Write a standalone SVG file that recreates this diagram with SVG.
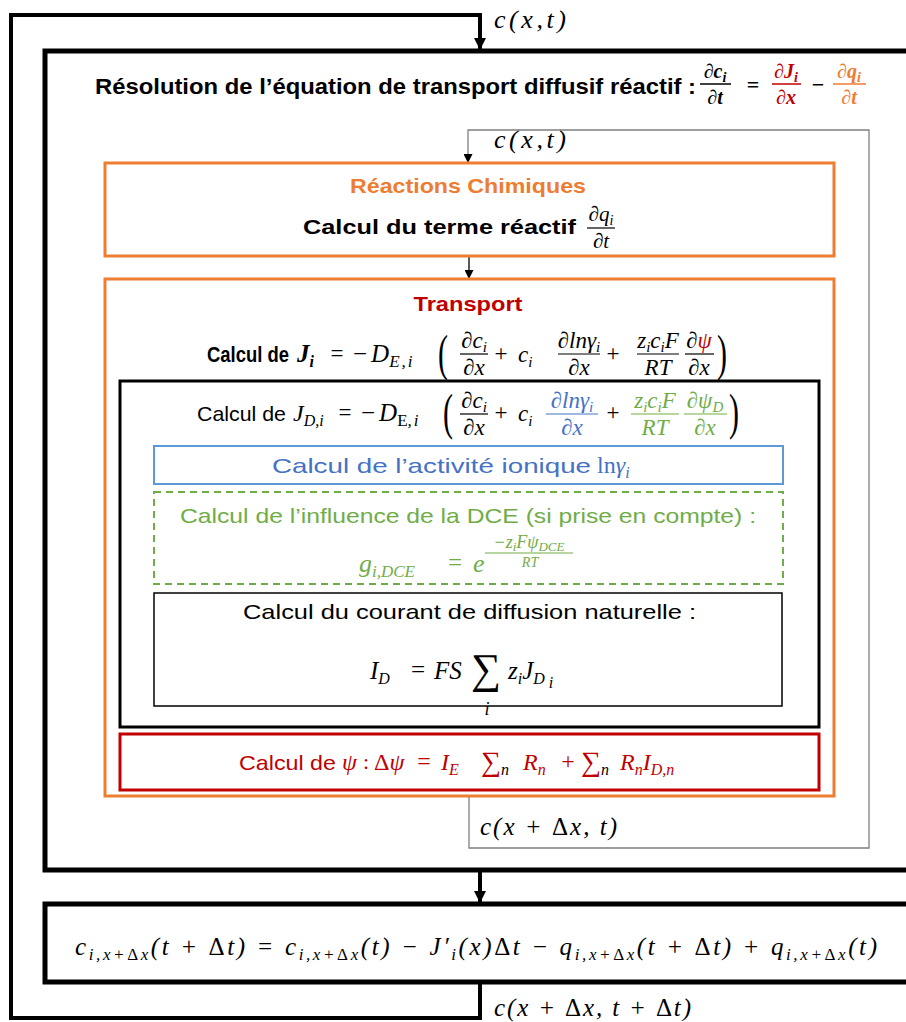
<svg xmlns="http://www.w3.org/2000/svg" width="906" height="1022" viewBox="0 0 906 1022">
<defs>
<style>
.t{font-family:"Liberation Sans",Arial,sans-serif;fill:#000}
.b{font-weight:bold}
.m{font-family:"Liberation Serif","DejaVu Serif",serif;font-style:italic;fill:#000}
.u{font-style:normal}
.or{fill:#ED7D31}
.rd{fill:#C00000}
.bl{fill:#4472C4}
.gr{fill:#70AD47}
.fl{stroke:#000;stroke-width:1.2}
</style>
<marker id="ab" viewBox="0 0 12 12" refX="12" refY="6" markerWidth="12" markerHeight="12" markerUnits="userSpaceOnUse" orient="auto"><path d="M0,0 L12,6 L0,12 Z" fill="#000"/></marker>
<marker id="as" viewBox="0 0 10 10" refX="10" refY="5" markerWidth="10" markerHeight="9" markerUnits="userSpaceOnUse" orient="auto"><path d="M0,0 L10,5 L0,10 Z" fill="#000"/></marker>
</defs>
<rect width="906" height="1022" fill="#fff"/>

<g id="connectors" fill="none">
<polyline points="480,982 480,1018 11,1018 11,15 480,15 480,50" stroke="#000" stroke-width="4" marker-end="url(#ab)"/>
<line x1="480" y1="870" x2="480" y2="903" stroke="#000" stroke-width="4" marker-end="url(#ab)"/>
<polyline points="469,797 469,848 869,848 869,130 468,130 468,163" stroke="#7F7F7F" stroke-width="1.3" marker-end="url(#as)"/>
<line x1="469" y1="257" x2="469" y2="279" stroke="#000" stroke-width="1.3" marker-end="url(#as)"/>
</g>

<g id="label-top" font-size="26">
<text class="m" x="494" y="28" textLength="72" lengthAdjust="spacing">c(x,t)</text>
</g>

<g id="main-box" font-size="20">
<rect x="45" y="51" width="880" height="819" fill="none" stroke="#000" stroke-width="5"/>
<text class="t b" x="95" y="94" font-size="22" textLength="601" lengthAdjust="spacingAndGlyphs">Résolution de l’équation de transport diffusif réactif :</text>
<text class="m b" x="715" y="78" text-anchor="middle">∂c<tspan font-size="14" dy="4">i</tspan></text>
<line x1="700" y1="84" x2="731" y2="84" stroke="#000" stroke-width="1.5"/>
<text class="m b" x="715" y="104" text-anchor="middle">∂t</text>
<text class="m u b" x="753" y="92" font-size="22" text-anchor="middle">=</text>
<text class="m b rd" x="786" y="78" text-anchor="middle">∂J<tspan font-size="14" dy="4">i</tspan></text>
<line x1="772" y1="84" x2="801" y2="84" stroke="#C00000" stroke-width="1.5"/>
<text class="m b rd" x="786" y="104" text-anchor="middle">∂x</text>
<text class="m u b" x="818" y="92" font-size="22" text-anchor="middle">−</text>
<text class="m b or" x="849" y="78" text-anchor="middle">∂q<tspan font-size="14" dy="4">i</tspan></text>
<line x1="833" y1="84" x2="866" y2="84" stroke="#ED7D31" stroke-width="1.5"/>
<text class="m b or" x="849" y="104" text-anchor="middle">∂t</text>
</g>

<g id="label-inner" font-size="26">
<text class="m" x="494" y="148" textLength="72" lengthAdjust="spacing">c(x,t)</text>
</g>

<g id="reactions" font-size="21">
<rect x="105" y="163" width="729" height="93" fill="#fff" stroke="#ED7D31" stroke-width="3"/>
<text class="t b or" x="468" y="193" text-anchor="middle" textLength="236" lengthAdjust="spacingAndGlyphs">Réactions Chimiques</text>
<text class="t b" x="303" y="234" textLength="273" lengthAdjust="spacingAndGlyphs">Calcul du terme réactif</text>
<text class="m" x="601" y="221" text-anchor="middle">∂q<tspan font-size="14" dy="4">i</tspan></text>
<line x1="587" y1="228" x2="615" y2="228" class="fl"/>
<text class="m" x="601" y="248" text-anchor="middle">∂t</text>
</g>

<g id="transport" font-size="23">
<rect x="105" y="279" width="729" height="517" fill="#fff" stroke="#ED7D31" stroke-width="3"/>
<text class="t b rd" x="468" y="311" font-size="21" text-anchor="middle" textLength="109" lengthAdjust="spacingAndGlyphs">Transport</text>
<text class="t b" x="207" y="362" font-size="22" textLength="82" lengthAdjust="spacingAndGlyphs">Calcul de</text>
<text class="m b" x="297" y="362" font-size="25">J<tspan font-size="16" dy="5">i</tspan></text>
<text class="m u" x="337" y="361" text-anchor="middle">=</text>
<text class="m" x="353" y="362" font-size="25"><tspan class="u">−</tspan><tspan dx="4">D</tspan><tspan font-size="17" dy="5" letter-spacing="2">E,i</tspan></text>
<text class="m u" font-size="50" transform="translate(438,370) scale(0.6,1)">(</text>
<text class="m" x="474" y="348" text-anchor="middle">∂c<tspan font-size="15" dy="4">i</tspan></text>
<line x1="460" y1="354" x2="488" y2="354" class="fl"/>
<text class="m" x="474" y="375" text-anchor="middle">∂x</text>
<text class="m u" x="501" y="361" text-anchor="middle">+</text>
<text class="m" x="518" y="362">c<tspan font-size="15" dy="5">i</tspan></text>
<text class="m" x="579" y="348" text-anchor="middle">∂lnγ<tspan font-size="15" dy="4">i</tspan></text>
<line x1="558" y1="354" x2="600" y2="354" class="fl"/>
<text class="m" x="579" y="375" text-anchor="middle">∂x</text>
<text class="m u" x="613" y="361" text-anchor="middle">+</text>
<text class="m" x="658" y="348" text-anchor="middle">z<tspan font-size="15" dy="4">i</tspan><tspan dy="-4">c</tspan><tspan font-size="15" dy="4">i</tspan><tspan dy="-4">F</tspan></text>
<line x1="637" y1="354" x2="679" y2="354" class="fl"/>
<text class="m" x="658" y="375" text-anchor="middle">RT</text>
<text class="m" x="699" y="348" text-anchor="middle">∂<tspan class="rd">ψ</tspan></text>
<line x1="685" y1="354" x2="714" y2="354" class="fl"/>
<text class="m" x="699" y="375" text-anchor="middle">∂x</text>
<text class="m u" font-size="50" transform="translate(717,370) scale(0.6,1)">)</text>
</g>

<g id="diffusion" font-size="23">
<rect x="120" y="381" width="699" height="346" fill="#fff" stroke="#000" stroke-width="3"/>
<text class="t" x="197" y="421" font-size="21" textLength="89" lengthAdjust="spacingAndGlyphs">Calcul de</text>
<text class="m" x="293" y="421" font-size="24">J<tspan font-size="16" dy="5">D,i</tspan></text>
<text class="m u" x="345" y="420" text-anchor="middle">=</text>
<text class="m" x="361" y="421" font-size="25"><tspan class="u">−</tspan><tspan dx="4">D</tspan><tspan class="u" font-size="17" dy="5">E</tspan><tspan font-size="17" letter-spacing="2">,i</tspan></text>
<text class="m u" font-size="50" transform="translate(443,429) scale(0.6,1)">(</text>
<text class="m" x="474" y="408" text-anchor="middle">∂c<tspan font-size="15" dy="4">i</tspan></text>
<line x1="460" y1="414" x2="488" y2="414" class="fl"/>
<text class="m" x="474" y="435" text-anchor="middle">∂x</text>
<text class="m u" x="501" y="420" text-anchor="middle">+</text>
<text class="m" x="518" y="421">c<tspan font-size="15" dy="5">i</tspan></text>
<text class="m bl" x="572" y="408" text-anchor="middle">∂lnγ<tspan font-size="15" dy="4">i</tspan></text>
<line x1="546" y1="414" x2="598" y2="414" stroke="#4472C4" stroke-width="1.2"/>
<text class="m bl" x="572" y="435" text-anchor="middle">∂x</text>
<text class="m u" x="613" y="420" text-anchor="middle">+</text>
<text class="m gr" x="655" y="408" text-anchor="middle">z<tspan font-size="15" dy="4">i</tspan><tspan dy="-4">c</tspan><tspan font-size="15" dy="4">i</tspan><tspan dy="-4">F</tspan></text>
<line x1="631" y1="414" x2="679" y2="414" stroke="#70AD47" stroke-width="1.2"/>
<text class="m gr" x="655" y="435" text-anchor="middle">RT</text>
<text class="m gr" x="705" y="408" text-anchor="middle">∂ψ<tspan font-size="15" dy="4">D</tspan></text>
<line x1="684" y1="414" x2="727" y2="414" stroke="#70AD47" stroke-width="1.2"/>
<text class="m gr" x="705" y="435" text-anchor="middle">∂x</text>
<text class="m u" font-size="50" transform="translate(729,429) scale(0.6,1)">)</text>
</g>

<g id="activite" font-size="21">
<rect x="154" y="446" width="629" height="38" fill="#fff" stroke="#5B9BD5" stroke-width="2"/>
<text class="t bl" x="272" y="473" textLength="319" lengthAdjust="spacingAndGlyphs">Calcul de l’activité ionique</text>
<text class="m bl" x="597" y="473" font-size="24"><tspan class="u">ln</tspan>γ<tspan font-size="16" dy="5">i</tspan></text>
</g>

<g id="dce" font-size="21">
<rect x="154" y="492" width="629" height="92" fill="#fff" stroke="#70AD47" stroke-width="2" stroke-dasharray="7 5"/>
<text class="t gr" x="180" y="523" textLength="576" lengthAdjust="spacingAndGlyphs">Calcul de l’influence de la DCE (si prise en compte) :</text>
<text class="m gr" x="359" y="572" font-size="26">g<tspan font-size="17" dy="5">i,DCE</tspan></text>
<text class="m u gr" x="455" y="571" font-size="25" text-anchor="middle">=</text>
<text class="m gr" x="473" y="572" font-size="26">e</text>
<text class="m gr" x="529" y="548" font-size="18" text-anchor="middle">−z<tspan font-size="13" dy="3">i</tspan><tspan dy="-3">Fψ</tspan><tspan font-size="13" dy="3">DCE</tspan></text>
<line x1="485" y1="553" x2="573" y2="553" stroke="#70AD47" stroke-width="1"/>
<text class="m gr" x="530" y="567" font-size="14" text-anchor="middle">RT</text>
</g>

<g id="courant" font-size="21">
<rect x="154" y="593" width="628" height="113" fill="#fff" stroke="#000" stroke-width="1.5"/>
<text class="t" x="243" y="619" textLength="453" lengthAdjust="spacingAndGlyphs">Calcul du courant de diffusion naturelle :</text>
<text class="m" x="370" y="679" font-size="25">I<tspan font-size="16" dy="5">D</tspan></text>
<text class="m u" x="418" y="678" font-size="25" text-anchor="middle">=</text>
<text class="m" x="434" y="679" font-size="25">FS</text>
<text class="m u" x="486" y="683" font-size="42" text-anchor="middle">∑</text>
<text class="m" x="487" y="715" font-size="18" text-anchor="middle">i</text>
<text class="m" x="508" y="679" font-size="25">z<tspan font-size="16" dy="5">i</tspan><tspan dy="-5">J</tspan><tspan font-size="16" dy="5">D</tspan><tspan font-size="16" dy="4"> i</tspan></text>
</g>

<g id="potentiel" font-size="24">
<rect x="120" y="734" width="699" height="56" fill="#fff" stroke="#C00000" stroke-width="3"/>
<text class="t rd" x="239" y="770" font-size="21" textLength="97" lengthAdjust="spacingAndGlyphs">Calcul de</text>
<text class="m rd" x="342" y="770">ψ</text>
<text class="m u rd" x="363" y="769" font-size="22">:</text>
<text class="m rd" x="374" y="770"><tspan class="u">Δ</tspan>ψ</text>
<text class="m u rd" x="424" y="769" text-anchor="middle">=</text>
<text class="m rd" x="441" y="770">I<tspan font-size="16" dy="5">E</tspan></text>
<text class="m u rd" x="481" y="771" font-size="28">∑<tspan class="m" font-size="16" dy="4">n</tspan></text>
<text class="m rd" x="523" y="770">R<tspan font-size="16" dy="5">n</tspan></text>
<text class="m u rd" x="568" y="769" text-anchor="middle">+</text>
<text class="m u rd" x="581" y="771" font-size="28">∑<tspan class="m" font-size="16" dy="4">n</tspan></text>
<text class="m rd" x="620" y="770">R<tspan font-size="16" dy="5">n</tspan><tspan dy="-5">I</tspan><tspan font-size="16" dy="5">D,n</tspan></text>
</g>

<g id="label-mid" font-size="25">
<text class="m" x="480" y="835" textLength="137" lengthAdjust="spacing">c(x + <tspan class="u">Δ</tspan>x, t)</text>
</g>

<g id="update" font-size="25">
<rect x="45" y="904" width="880" height="78" fill="#fff" stroke="#000" stroke-width="5"/>
<text class="m" x="75" y="955" textLength="802" lengthAdjust="spacing">c<tspan font-size="17" dy="5">i,x+<tspan class="u">Δ</tspan>x</tspan><tspan dy="-5">(t + <tspan class="u">Δ</tspan>t) = c</tspan><tspan font-size="17" dy="5">i,x+<tspan class="u">Δ</tspan>x</tspan><tspan dy="-5">(t) − J′</tspan><tspan font-size="17" dy="5">i</tspan><tspan dy="-5">(x)<tspan class="u">Δ</tspan>t −  q</tspan><tspan font-size="17" dy="5">i,x+<tspan class="u">Δ</tspan>x</tspan><tspan dy="-5">(t + <tspan class="u">Δ</tspan>t) + q</tspan><tspan font-size="17" dy="5">i,x+<tspan class="u">Δ</tspan>x</tspan><tspan dy="-5">(t)</tspan></text>
</g>

<g id="label-bottom" font-size="25">
<text class="m" x="494" y="1016" textLength="197" lengthAdjust="spacing">c(x + <tspan class="u">Δ</tspan>x, t + <tspan class="u">Δ</tspan>t)</text>
</g>
</svg>
